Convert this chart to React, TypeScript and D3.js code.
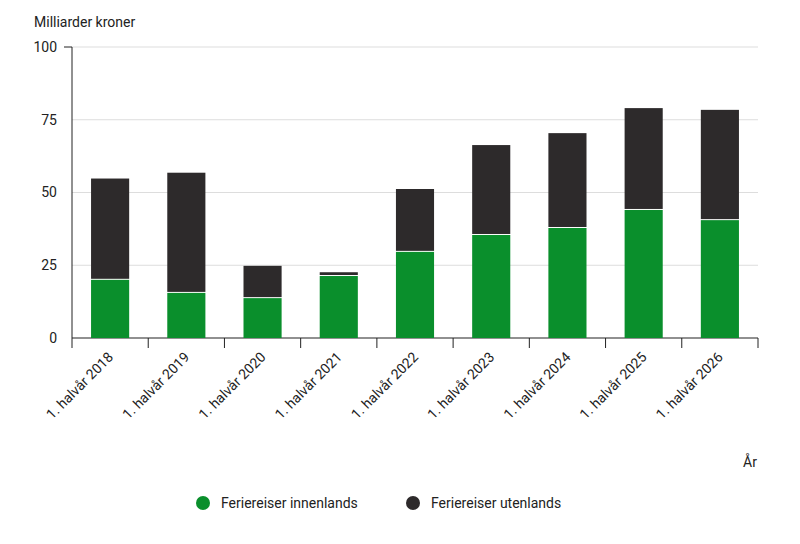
import { useEffect, useRef } from 'react';
import * as d3 from 'd3';

const categories = ['1. halvår 2018', '1. halvår 2019', '1. halvår 2020', '1. halvår 2021', '1. halvår 2022', '1. halvår 2023', '1. halvår 2024', '1. halvår 2025', '1. halvår 2026'];
const innenlands = [20, 15.5, 13.7, 21.3, 29.6, 35.4, 37.8, 44, 40.5];
const utenlands = [34.8, 41.3, 11.1, 1.3, 21.6, 30.9, 32.6, 35, 37.9];
const yTicks = [0, 25, 50, 75, 100];
const seriesNames = ['Feriereiser innenlands', 'Feriereiser utenlands'];
const colors = ['#0a8f2c', '#2d2a2b'];

export default function App() {
  const ref = useRef<SVGSVGElement>(null);

  useEffect(() => {
    const svg = d3.select(ref.current);
    svg.selectAll('*').remove();
    const left = 72, right = 758, top = 47, bottom = 338;
    const font = 'Roboto, Arial, sans-serif';

    const x = d3.scaleBand().domain(categories).range([left, right]).paddingInner(0.5).paddingOuter(0.25);
    const y = d3.scaleLinear().domain([0, 100]).range([bottom, top]);

    yTicks.forEach((t) => {
      svg.append('line').attr('x1', left).attr('x2', right).attr('y1', y(t)).attr('y2', y(t))
        .attr('stroke', t === 0 ? '#222' : '#ddd').attr('stroke-width', t === 0 ? 1.2 : 1);
      svg.append('text').attr('x', left - 15).attr('y', y(t)).attr('dy', '0.35em')
        .attr('text-anchor', 'end').attr('font-family', font).attr('font-size', 14).attr('fill', '#222').text(t);
    });
    svg.append('line').attr('x1', left).attr('x2', left).attr('y1', top).attr('y2', bottom).attr('stroke', '#222');
    svg.append('line').attr('x1', left - 8).attr('x2', left).attr('y1', top).attr('y2', top).attr('stroke', '#222');

    const step = x.step();
    d3.range(categories.length + 1).forEach((i) => {
      const xx = left + i * (right - left) / categories.length;
      svg.append('line').attr('x1', xx).attr('x2', xx).attr('y1', bottom).attr('y2', bottom + 10).attr('stroke', '#222');
    });

    categories.forEach((c, i) => {
      const bx = x(c)!;
      const w = x.bandwidth();
      svg.append('rect').attr('x', bx).attr('width', w).attr('y', y(innenlands[i])).attr('height', bottom - y(innenlands[i])).attr('fill', colors[0]);
      const tot = innenlands[i] + utenlands[i];
      svg.append('rect').attr('x', bx).attr('width', w).attr('y', y(tot)).attr('height', y(innenlands[i]) - y(tot) - 1).attr('fill', colors[1]);
      const cx = bx + w / 2 + 4;
      svg.append('text').attr('transform', `translate(${cx},${bottom + 20}) rotate(-45)`)
        .attr('text-anchor', 'end').attr('font-family', font).attr('font-size', 14).attr('fill', '#222').text(c);
    });
    void step;

    svg.append('text').attr('x', 34).attr('y', 27).attr('font-family', font).attr('font-size', 14).attr('fill', '#222').text('Milliarder kroner');
    svg.append('text').attr('x', 757).attr('y', 467).attr('text-anchor', 'end').attr('font-family', font).attr('font-size', 14).attr('fill', '#222').text('År');

    const lx = [203, 413];
    seriesNames.forEach((n, i) => {
      svg.append('circle').attr('cx', lx[i]).attr('cy', 503).attr('r', 7).attr('fill', colors[i]);
      svg.append('text').attr('x', lx[i] + 18).attr('y', 503).attr('dy', '0.35em').attr('font-family', font).attr('font-size', 14).attr('fill', '#222').text(n);
    });
  }, []);

  return <svg ref={ref} width={800} height={544} style={{ position: 'absolute', left: 0, top: 0, background: '#fff' }} />;
}
